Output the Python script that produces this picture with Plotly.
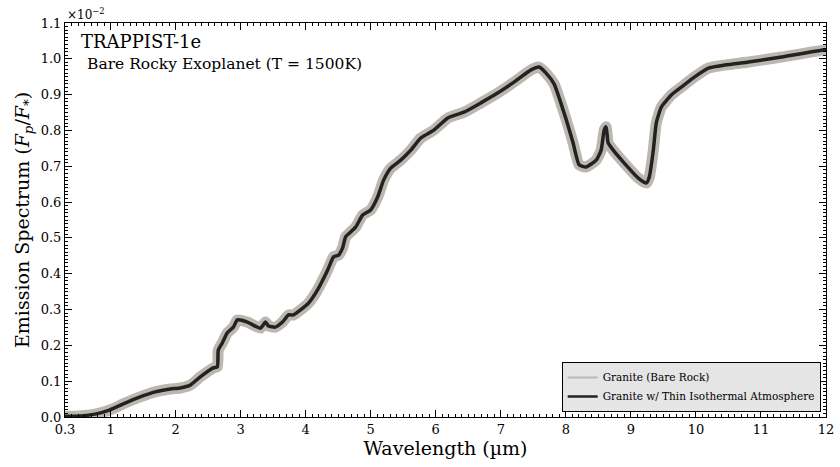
import plotly.graph_objects as go

wavelength = [0.300, 0.531, 0.762, 0.993, 1.224, 1.456, 1.687, 1.918, 2.072, 2.226, 2.380, 2.580,
              2.642, 2.657, 2.719, 2.796, 2.889, 2.950, 3.104, 3.305, 3.382, 3.428, 3.536, 3.644,
              3.736, 3.813, 3.921, 4.044, 4.183, 4.337, 4.429, 4.506, 4.568, 4.614, 4.676, 4.768,
              4.876, 4.999, 5.107, 5.200, 5.308, 5.462, 5.616, 5.770, 5.970, 6.186, 6.433, 6.694,
              6.956, 7.203, 7.465, 7.588, 7.696, 7.819, 7.973, 8.112, 8.204, 8.312, 8.466, 8.543,
              8.590, 8.620, 8.651, 8.728, 8.898, 9.114, 9.237, 9.283, 9.345, 9.391, 9.468, 9.622,
              9.776, 9.976, 10.192, 10.546, 10.808, 11.317, 11.979, 12.0]

bare_rock = [0.002, 0.003, 0.008, 0.020, 0.039, 0.056, 0.070, 0.078, 0.081, 0.089, 0.112, 0.137,
             0.140, 0.187, 0.207, 0.235, 0.251, 0.271, 0.265, 0.248, 0.265, 0.254, 0.251, 0.265,
             0.285, 0.285, 0.299, 0.318, 0.355, 0.410, 0.447, 0.452, 0.472, 0.503, 0.514, 0.530,
             0.564, 0.578, 0.614, 0.662, 0.695, 0.717, 0.745, 0.779, 0.801, 0.835, 0.851, 0.877,
             0.905, 0.935, 0.969, 0.977, 0.960, 0.930, 0.849, 0.765, 0.704, 0.698, 0.717, 0.745,
             0.801, 0.810, 0.765, 0.745, 0.709, 0.667, 0.653, 0.670, 0.745, 0.821, 0.865, 0.899,
             0.921, 0.949, 0.974, 0.985, 0.991, 1.005, 1.025, 1.025]

thin_atmosphere = [0.002, 0.003, 0.008, 0.020, 0.039, 0.056, 0.070, 0.078, 0.081, 0.089, 0.112, 0.137,
                   0.140, 0.187, 0.207, 0.235, 0.251, 0.271, 0.265, 0.248, 0.265, 0.254, 0.251, 0.265,
                   0.285, 0.285, 0.299, 0.318, 0.355, 0.410, 0.447, 0.452, 0.472, 0.503, 0.514, 0.530,
                   0.564, 0.578, 0.614, 0.662, 0.695, 0.717, 0.745, 0.779, 0.801, 0.835, 0.851, 0.877,
                   0.905, 0.935, 0.969, 0.977, 0.960, 0.930, 0.849, 0.765, 0.704, 0.698, 0.717, 0.745,
                   0.801, 0.810, 0.765, 0.745, 0.709, 0.667, 0.653, 0.670, 0.745, 0.821, 0.865, 0.899,
                   0.921, 0.949, 0.974, 0.985, 0.991, 1.005, 1.025, 1.025]

x_tickvals = [0.3, 1, 2, 3, 4, 5, 6, 7, 8, 9, 10, 11, 12]
x_ticktext = ["0.3", "1", "2", "3", "4", "5", "6", "7", "8", "9", "10", "11", "12"]
y_tickvals = [0.0, 0.1, 0.2, 0.3, 0.4, 0.5, 0.6, 0.7, 0.8, 0.9, 1.0, 1.1]

FONT = "'DejaVu Serif', 'Liberation Serif', serif"
GREY = "#bcb8b0"
BLACK = "#222222"

fig = go.Figure()
fig.add_trace(go.Scatter(x=wavelength, y=bare_rock, mode="lines", showlegend=False,
                         name="Granite (Bare Rock)",
                         line=dict(color=GREY, width=11, shape="spline", smoothing=0.5)))
fig.add_trace(go.Scatter(x=wavelength, y=thin_atmosphere, mode="lines", showlegend=False,
                         name="Granite w/ Thin Isothermal Atmosphere",
                         line=dict(color=BLACK, width=3.5, shape="spline", smoothing=0.5)))
# legend entries with thin line samples
fig.add_trace(go.Scatter(x=[None], y=[None], mode="lines", name="Granite (Bare Rock)",
                         line=dict(color=GREY, width=2)))
fig.add_trace(go.Scatter(x=[None], y=[None], mode="lines",
                         name="Granite w/ Thin Isothermal Atmosphere",
                         line=dict(color=BLACK, width=2.5)))

axis_common = dict(showline=True, linecolor="black", linewidth=1, mirror="ticks",
                   ticks="inside", ticklen=7, tickcolor="black", tickwidth=1,
                   showgrid=False, zeroline=False, automargin=False,
                   ticklabeloverflow="allow",
                   tickfont=dict(family=FONT, size=13, color="black"))

fig.update_xaxes(range=[0.3, 12], tickvals=x_tickvals, ticktext=x_ticktext,
                 title=dict(text="Wavelength (µm)", font=dict(family=FONT, size=19, color="black"), standoff=6),
                 minor=dict(ticks="inside", ticklen=3, dtick=0.1, tick0=0.3, tickcolor="black"),
                 **axis_common)
fig.update_yaxes(range=[0, 1.1], tickvals=y_tickvals, tickformat=".1f",
                 title=dict(text="Emission Spectrum (<i>F<sub>p</sub></i>/<i>F</i><sub>*</sub>)",
                            font=dict(family=FONT, size=19, color="black"), standoff=6),
                 minor=dict(ticks="inside", ticklen=3, dtick=0.01, tick0=0, tickcolor="black"),
                 **axis_common)

fig.add_annotation(x=0, y=1, xref="paper", yref="paper", xanchor="left", yanchor="bottom",
                   text="×10<sup>−2</sup>", showarrow=False, yshift=-1,
                   font=dict(family=FONT, size=12, color="black"))
fig.add_annotation(x=0.018, y=0.985, xref="paper", yref="paper", xanchor="left", yanchor="top",
                   text="TRAPPIST-1e", showarrow=False,
                   font=dict(family=FONT, size=18, color="black"))
fig.add_annotation(x=0.026, y=0.925, xref="paper", yref="paper", xanchor="left", yanchor="top",
                   text="Bare Rocky Exoplanet (T = 1500K)", showarrow=False,
                   font=dict(family=FONT, size=15.5, color="black"))

fig.update_layout(
    width=840, height=467,
    margin=dict(l=65, r=14, t=23, b=50),
    paper_bgcolor="white", plot_bgcolor="white",
    showlegend=True,
    legend=dict(x=0.993, y=0.013, xanchor="right", yanchor="bottom",
                bgcolor="#e5e5e5", bordercolor="black", borderwidth=1,
                font=dict(family=FONT, size=10.5, color="black"),
                tracegroupgap=0, itemwidth=30),
    font=dict(family=FONT),
)

fig.write_html("out.html")
